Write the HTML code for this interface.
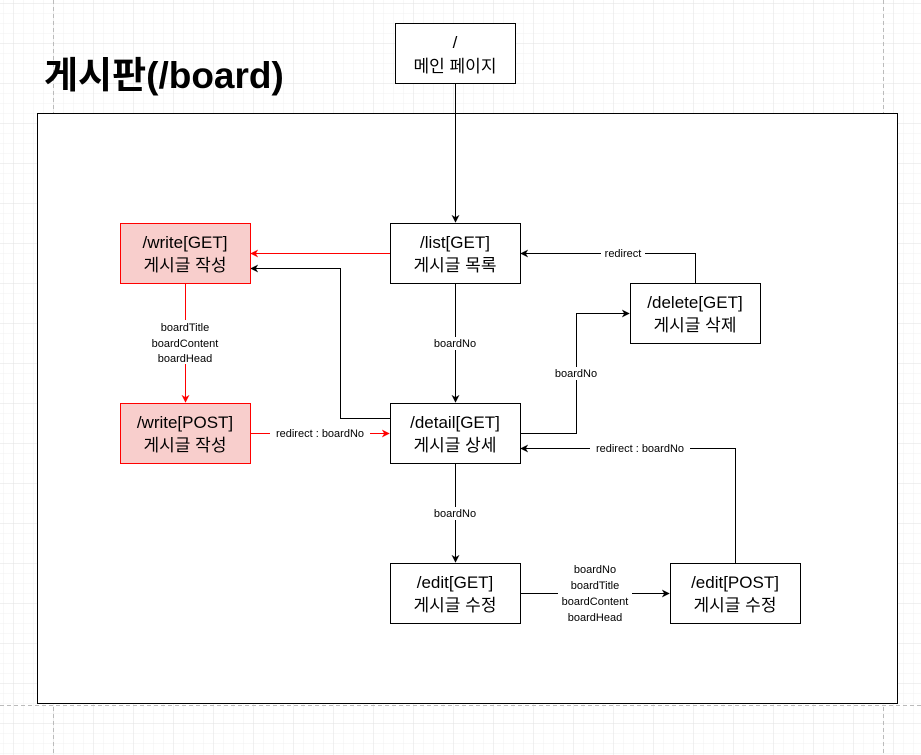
<!DOCTYPE html>
<html><head><meta charset="utf-8"><style>
html,body{margin:0;padding:0;background:#fff}
svg{display:block}
text{font-family:"Liberation Sans","Noto Sans CJK KR",sans-serif}
</style></head><body>
<svg width="921" height="755" viewBox="0 0 921 755" xmlns="http://www.w3.org/2000/svg">
<defs>
<pattern id="g" width="10" height="10" patternUnits="userSpaceOnUse"><path d="M10 0H0V10" fill="none" stroke="#f0f0f0" stroke-width="1"/></pattern>
<pattern id="G" width="40" height="40" patternUnits="userSpaceOnUse" x="13" y="3"><rect width="40" height="40" fill="url(#g)"/><path d="M40 0H0V40" fill="none" stroke="#e2e2e2" stroke-width="1"/></pattern>
<marker id="ab" viewBox="0 0 10 10" refX="9" refY="5" markerWidth="8" markerHeight="8" orient="auto" markerUnits="userSpaceOnUse"><path d="M0 0L10 5L0 10L3 5z" fill="#000"/></marker>
<marker id="ar" viewBox="0 0 10 10" refX="9" refY="5" markerWidth="8" markerHeight="8" orient="auto" markerUnits="userSpaceOnUse"><path d="M0 0L10 5L0 10L3 5z" fill="#f00"/></marker>
</defs>
<rect width="921" height="755" fill="url(#G)"/>
<path d="M53.5 0V755M883.5 0V755M0 705.5H921" stroke="#bbb" stroke-dasharray="4 3" fill="none"/>
<text x="44" y="88" font-size="37" font-weight="bold">게시판(/board)</text>
<rect x="37.5" y="113.5" width="860" height="590" fill="#fff" stroke="#000"/>

<g fill="none" stroke="#000" stroke-width="1">
<path d="M455.5 83V222" marker-end="url(#ab)"/>
<path d="M390 418.5H340.5V268.5H251" marker-end="url(#ab)"/>
<path d="M455.5 283V402" marker-end="url(#ab)"/>
<path d="M520 433.5H576.5V313.5H629" marker-end="url(#ab)"/>
<path d="M695.5 283V253.5H521" marker-end="url(#ab)"/>
<path d="M735.5 563V448.5H521" marker-end="url(#ab)"/>
<path d="M455.5 463V562" marker-end="url(#ab)"/>
<path d="M520 593.5H669" marker-end="url(#ab)"/>
<path d="M390 253.5H251" stroke="#f00" marker-end="url(#ar)"/>
<path d="M185.5 283V402" stroke="#f00" marker-end="url(#ar)"/>
<path d="M250 433.5H389" stroke="#f00" marker-end="url(#ar)"/>
</g>

<g font-size="11" text-anchor="middle">
<rect x="155" y="320" width="62" height="44" fill="#fff"/>
<text x="185" y="331">boardTitle</text><text x="185" y="347">boardContent</text><text x="185" y="362">boardHead</text>
<rect x="270" y="427" width="100" height="13" fill="#fff"/><text x="320" y="437">redirect : boardNo</text>
<rect x="430" y="337" width="50" height="13" fill="#fff"/><text x="455" y="347">boardNo</text>
<rect x="430" y="507" width="50" height="13" fill="#fff"/><text x="455" y="517">boardNo</text>
<rect x="551" y="367" width="50" height="13" fill="#fff"/><text x="576" y="377">boardNo</text>
<rect x="601" y="247" width="44" height="13" fill="#fff"/><text x="623" y="257">redirect</text>
<rect x="590" y="442" width="100" height="13" fill="#fff"/><text x="640" y="452">redirect : boardNo</text>
<rect x="558" y="563" width="74" height="60" fill="#fff"/>
<text x="595" y="573">boardNo</text><text x="595" y="589">boardTitle</text><text x="595" y="605">boardContent</text><text x="595" y="621">boardHead</text>
</g>

<g stroke="#000" fill="#fff">
<rect x="395.5" y="23.5" width="120" height="60"/>
<rect x="390.5" y="223.5" width="130" height="60"/>
<rect x="390.5" y="403.5" width="130" height="60"/>
<rect x="630.5" y="283.5" width="130" height="60"/>
<rect x="390.5" y="563.5" width="130" height="60"/>
<rect x="670.5" y="563.5" width="130" height="60"/>
<rect x="120.5" y="223.5" width="130" height="60" fill="#f8cecc" stroke="#f00"/>
<rect x="120.5" y="403.5" width="130" height="60" fill="#f8cecc" stroke="#f00"/>
</g>
<g font-size="17" text-anchor="middle">
<text x="455" y="48">/</text><text x="455" y="72">메인 페이지</text>
<text x="455" y="248">/list[GET]</text><text x="455" y="271">게시글 목록</text>
<text x="455" y="428">/detail[GET]</text><text x="455" y="451">게시글 상세</text>
<text x="695" y="308">/delete[GET]</text><text x="695" y="331">게시글 삭제</text>
<text x="455" y="588">/edit[GET]</text><text x="455" y="611">게시글 수정</text>
<text x="735" y="588">/edit[POST]</text><text x="735" y="611">게시글 수정</text>
<text x="185" y="248">/write[GET]</text><text x="185" y="271">게시글 작성</text>
<text x="185" y="428">/write[POST]</text><text x="185" y="451">게시글 작성</text>
</g>
</svg>
</body></html>
